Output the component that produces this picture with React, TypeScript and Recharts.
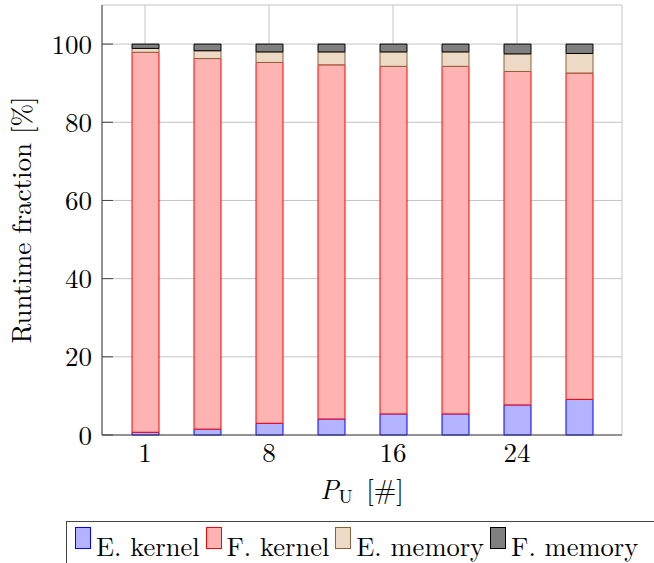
import React from 'react';
import { BarChart, Bar, XAxis, YAxis, CartesianGrid, Legend } from 'recharts';

// number of units P_U for each run
const units = ['1', '4', '8', '12', '16', '20', '24', '28'];
// runtime share of each phase, in percent
const eKernel = [0.7, 1.5, 3.0, 4.1, 5.4, 5.4, 7.7, 9.1];
const fKernel = [97.2, 94.8, 92.3, 90.6, 88.9, 88.9, 85.3, 83.5];
const eMemory = [1.0, 2.0, 2.7, 3.3, 3.7, 3.7, 4.5, 5.0];
const fMemory = [1.1, 1.7, 2.0, 2.0, 2.0, 2.0, 2.5, 2.4];

const xTicks = ['1', '8', '16', '24'];
const yTicks = [0, 20, 40, 60, 80, 100];
const seriesNames = ['E. kernel', 'F. kernel', 'E. memory', 'F. memory'];

const series = [
  { key: 'eKernel', fill: '#b3b3ff', stroke: '#0000ff' },
  { key: 'fKernel', fill: '#ffb3b3', stroke: '#ff0000' },
  { key: 'eMemory', fill: '#ecd9c6', stroke: '#8c6239' },
  { key: 'fMemory', fill: '#808080', stroke: '#000000' }
];

const data = units.map((unit, i) => ({
  unit,
  eKernel: eKernel[i],
  fKernel: fKernel[i],
  eMemory: eMemory[i],
  fMemory: fMemory[i]
}));

const FONT = '"Latin Modern Roman", "Liberation Serif", serif';
const AXIS = '#444';

function YTitle({ viewBox }: any) {
  const cx = viewBox.x + 31;
  const cy = viewBox.y + viewBox.height / 2;
  return (
    <text
      x={cx}
      y={cy}
      transform={`rotate(-90 ${cx} ${cy})`}
      textAnchor="middle"
      style={{ fontFamily: FONT, fontSize: 27 }}
      fill="#000"
    >
      Runtime fraction [%]
    </text>
  );
}

function XTitle({ viewBox }: any) {
  const cx = viewBox.x + viewBox.width / 2;
  const cy = viewBox.y + 64;
  return (
    <text x={cx} y={cy} textAnchor="middle" style={{ fontFamily: FONT, fontSize: 27 }} fill="#000">
      <tspan fontStyle="italic">P</tspan>
      <tspan dy={4} style={{ fontSize: 19 }}>U</tspan>
      <tspan dy={-4}>{'\u00a0[#]'}</tspan>
    </text>
  );
}

function LegendBox() {
  return (
    <div
      style={{
        display: 'flex',
        alignItems: 'flex-start',
        boxSizing: 'border-box',
        width: '100%',
        height: '100%',
        border: `1px solid ${AXIS}`,
        padding: '5px 0 0 8px',
        fontFamily: FONT,
        fontSize: 26.5,
        color: '#000'
      }}
    >
      {series.map((s, i) => (
        <div key={s.key} style={{ display: 'flex', alignItems: 'flex-start', marginRight: 6 }}>
          <span
            style={{
              boxSizing: 'border-box',
              width: 16,
              height: 22,
              background: s.fill,
              border: `1px solid ${s.stroke}`
            }}
          />
          <span style={{ marginLeft: 5, marginTop: 3, lineHeight: '30px', whiteSpace: 'nowrap' }}>
            {seriesNames[i]}
          </span>
        </div>
      ))}
    </div>
  );
}

export default function App() {
  const tickStyle = { fontFamily: FONT, fontSize: 27, fill: '#000' };
  return (
    <div style={{ position: 'absolute', left: 0, top: 0, width: 654, height: 563, overflow: 'hidden', background: '#fff', fontFamily: FONT }}>
      <BarChart width={654} height={563} data={data} margin={{ top: 5, right: 32, left: 0, bottom: 58 }}>
        <CartesianGrid stroke="#c4c4c4" />
        <XAxis
          dataKey="unit"
          ticks={xTicks}
          interval={0}
          height={70}
          padding={{ left: 12, right: 12 }}
          tickSize={-11}
          tickMargin={19}
          tick={tickStyle}
          axisLine={{ stroke: AXIS }}
          tickLine={{ stroke: 'none' }}
          label={<XTitle />}
        />
        <XAxis
          xAxisId="top"
          orientation="top"
          dataKey="unit"
          ticks={xTicks}
          interval={0}
          height={0}
          padding={{ left: 12, right: 12 }}
          tickSize={-11}
          tick={false}
          axisLine={{ stroke: AXIS }}
          tickLine={{ stroke: AXIS }}
        />
        <YAxis
          type="number"
          domain={[0, 110]}
          ticks={yTicks}
          width={102}
          tickSize={-11}
          tickMargin={21}
          tick={tickStyle}
          axisLine={{ stroke: AXIS }}
          tickLine={{ stroke: AXIS }}
          label={<YTitle />}
        />
        <YAxis
          yAxisId="right"
          orientation="right"
          type="number"
          domain={[0, 110]}
          ticks={yTicks}
          width={0}
          tickSize={-11}
          tick={false}
          axisLine={{ stroke: AXIS }}
          tickLine={{ stroke: AXIS }}
        />
        {series.map((s, i) => (
          <Bar
            key={s.key}
            dataKey={s.key}
            name={seriesNames[i]}
            stackId="runtime"
            barSize={27}
            fill={s.fill}
            stroke={s.stroke}
            strokeWidth={1}
            isAnimationActive={false}
          />
        ))}
        <Legend
          layout="horizontal"
          verticalAlign="middle"
          align="center"
          content={<LegendBox />}
          wrapperStyle={{ position: 'absolute', left: 66, top: 521, width: 620, height: 60 }}
        />
      </BarChart>
    </div>
  );
}
